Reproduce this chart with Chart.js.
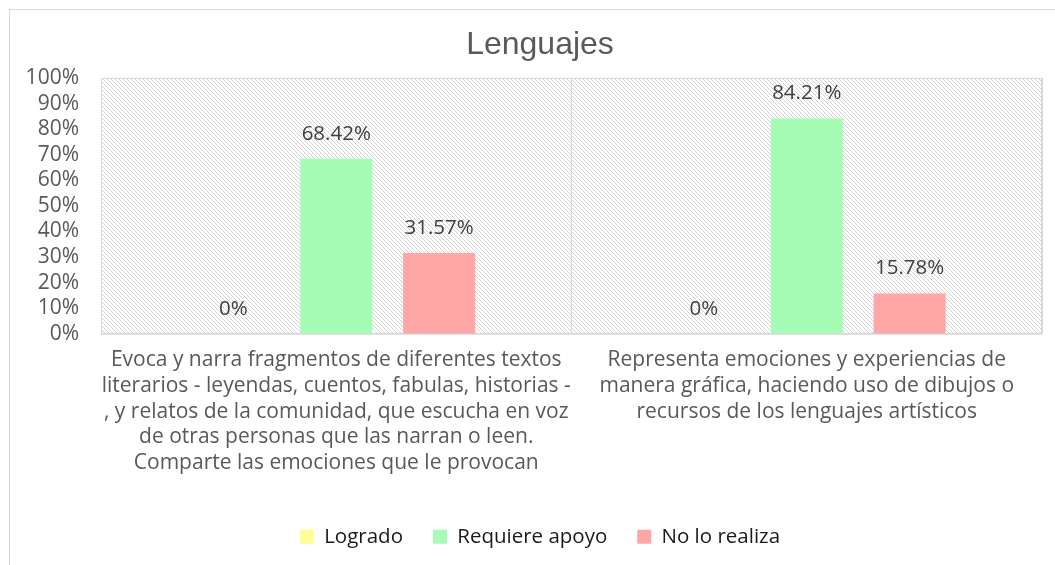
<!DOCTYPE html>
<html>
<head>
<meta charset="utf-8">
<script src="https://cdn.jsdelivr.net/npm/chart.js@4"></script>
<style>
  html, body { margin: 0; padding: 0; background: #fff; overflow: hidden; }
  #wrap { position: absolute; left: 0; top: 0; width: 1055px; height: 565px; }
</style>
</head>
<body>
<div id="wrap"><canvas id="chart" width="1055" height="565"></canvas></div>
<script>
// Categories (multi-line labels as shown under the axis)
const categories = [
    [
        'Evoca y narra fragmentos de diferentes textos',
        'literarios - leyendas, cuentos, fabulas, historias -',
        ', y relatos de la comunidad, que escucha en voz',
        'de otras personas que las narran o leen.',
        'Comparte las emociones que le provocan'
    ],
    [
        'Representa emociones y experiencias de',
        'manera gráfica, haciendo uso de dibujos o',
        'recursos de los lenguajes artísticos'
    ]
];

const seriesNames = ['Logrado', 'Requiere apoyo', 'No lo realiza'];
const logrado = [0, 0];
const requiereApoyo = [68.42, 84.21];
const noLoRealiza = [31.57, 15.78];
const seriesColors = ['#FFFF99', '#A6FBB5', '#FFA6A6'];

const yTicks = [0, 10, 20, 30, 40, 50, 60, 70, 80, 90, 100];

const FONT = '"Open Sans", "Noto Sans", sans-serif';

// widest y label, so mirrored labels can sit right-aligned left of the plot
const measure = document.createElement('canvas').getContext('2d');
measure.font = 'normal 21px ' + FONT;
const widestY = Math.max(...yTicks.map(v => measure.measureText(v + '%').width));

// Hatched background like the Excel plot area
function makeHatch() {
    const c = document.createElement('canvas');
    c.width = 8;
    c.height = 8;
    const g = c.getContext('2d');
    g.fillStyle = '#ffffff';
    g.fillRect(0, 0, 8, 8);
    g.fillStyle = '#d4d4d4';
    for (let i = 0; i < 8; i++) {
        g.fillRect(i, i, 1, 1);
        g.fillRect((i + 4) % 8, i, 1, 1);
    }
    return g.createPattern(c, 'repeat');
}

const plotBackground = {
    id: 'plotBackground',
    beforeDraw(chart) {
        const { ctx, chartArea } = chart;
        ctx.save();
        // outer frame of the chart object
        ctx.strokeStyle = '#d9d9d9';
        ctx.lineWidth = 1;
        ctx.strokeRect(9.5, 9.5, 1100, 600);
        ctx.fillStyle = makeHatch();
        ctx.fillRect(chartArea.left, chartArea.top,
            chartArea.right - chartArea.left, chartArea.bottom - chartArea.top);
        ctx.strokeStyle = '#d9d9d9';
        ctx.strokeRect(chartArea.left + 0.5, chartArea.top + 0.5,
            chartArea.right - chartArea.left - 1, chartArea.bottom - chartArea.top);
        ctx.restore();
    }
};

// Values written above each bar
const valueLabels = {
    id: 'valueLabels',
    afterDatasetsDraw(chart) {
        const { ctx } = chart;
        ctx.save();
        ctx.font = '20.5px ' + FONT;
        ctx.fillStyle = '#404040';
        ctx.textAlign = 'center';
        ctx.textBaseline = 'middle';
        chart.data.datasets.forEach((ds, i) => {
            const meta = chart.getDatasetMeta(i);
            meta.data.forEach((bar, j) => {
                const v = ds.data[j];
                const text = v === 0 ? '0%' : v.toFixed(2) + '%';
                ctx.fillText(text, bar.x, bar.y - 25);
            });
        });
        ctx.restore();
    }
};

const ctx = document.getElementById('chart').getContext('2d');
const chart = new Chart(ctx, {
    type: 'bar',
    data: {
        labels: categories,
        datasets: [
            { label: seriesNames[0], data: logrado, backgroundColor: seriesColors[0] },
            { label: seriesNames[1], data: requiereApoyo, backgroundColor: seriesColors[1] },
            { label: seriesNames[2], data: noLoRealiza, backgroundColor: seriesColors[2] }
        ]
    },
    options: {
        responsive: false,
        animation: false,
        layout: {
            padding: { left: 38, right: 13, top: 0, bottom: 8 }
        },
        datasets: {
            bar: {
                categoryPercentage: 0.656,
                barPercentage: 0.70
            }
        },
        plugins: {
            title: {
                display: true,
                text: 'Lenguajes',
                color: '#595959',
                font: { family: '"Liberation Sans", Arial, sans-serif', size: 32, weight: 'normal' },
                padding: { top: 26, bottom: 13.6 }
            },
            legend: {
                position: 'bottom',
                labels: {
                    color: '#1a1a1a',
                    font: { family: FONT, size: 20.5 },
                    boxWidth: 14,
                    boxHeight: 14,
                    padding: 30
                }
            },
            tooltip: { enabled: false }
        },
        scales: {
            x: {
                grid: {
                    display: true,
                    color: '#d9d9d9',
                    drawTicks: false
                },
                border: { color: '#d9d9d9' },
                ticks: {
                    color: '#595959',
                    font: { family: FONT, size: 21, lineHeight: 1.215 },
                    padding: 14,
                    maxRotation: 0,
                    autoSkip: false
                },
                afterFit(scale) { scale.height = 162.75; }
            },
            y: {
                min: 0,
                max: 100,
                afterBuildTicks(scale) {
                    scale.ticks = yTicks.map(v => ({ value: v }));
                },
                grid: { display: false, drawTicks: false },
                border: { color: '#d9d9d9' },
                ticks: {
                    color: '#595959',
                    font: { family: FONT, size: 21 },
                    mirror: true,
                    crossAlign: 'far',
                    padding: -22 - widestY,
                    autoSkip: false,
                    callback: v => v + '%'
                },
                afterFit(scale) { scale.width = 63; }
            }
        }
    },
    plugins: [plotBackground, valueLabels]
});
</script>
</body>
</html>
